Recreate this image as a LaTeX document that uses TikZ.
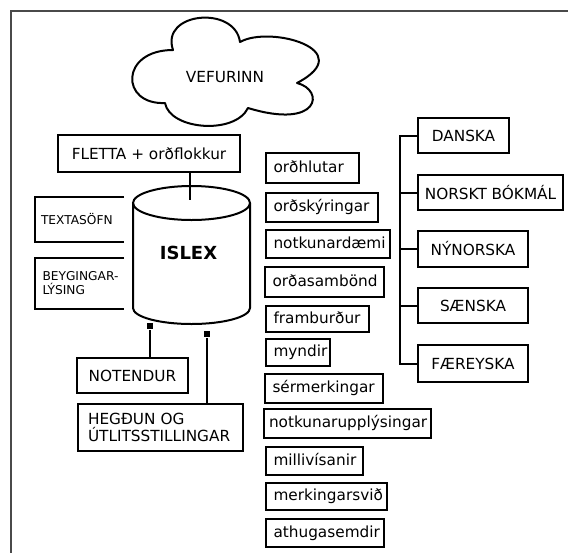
\documentclass[tikz,border=0pt]{standalone}
\usepackage{fontspec}
\setmainfont{DejaVu Sans}
\hyphenpenalty=10000
\exhyphenpenalty=10000
\newcommand{\mainfs}{\fontsize{15.3}{17}\selectfont}
\newcommand{\smallfs}{\fontsize{12.2}{14}\selectfont}
\definecolor{framegray}{HTML}{4A4A4A}
\tikzset{
  box/.style={draw, line width=2pt, inner sep=0pt, font=\mainfs},
  rb/.style={box, anchor=west, align=left, inner xsep=7.5pt, text height=11.5pt, text depth=3.5pt},
  lang/.style={box, align=center},
  bracketnode/.style={inner ysep=0pt, inner xsep=5pt, align=left, font=\smallfs},
  marker/.style={fill=black, inner sep=0pt, minimum width=6pt, minimum height=6pt},
  conn/.style={line width=2pt},
}
\begin{document}
\begin{tikzpicture}[x=1pt,y=1pt,line width=2pt]
\useasboundingbox (0,0) rectangle (568,-552);
% outer frame (only top and left visible)
\draw[line width=2pt, framegray] (11,-560) -- (11,-11) -- (575,-11);

% cloud
\draw[line width=2pt, line join=round]
  (173,-50) .. controls (160,-12) and (235,-5) .. (240,-42)
  .. controls (270,-25) and (360,-50) .. (297,-83)
  .. controls (325,-90) and (320,-130) .. (248,-108)
  .. controls (235,-135) and (170,-130) .. (165,-103)
  .. controls (120,-105) and (120,-50) .. (173,-50) -- cycle;
\node[font=\mainfs] (web) at (225,-76.7) {VEFURINN};

% FLETTA box
\node[box, minimum width=182pt, minimum height=37pt] (flet) at (149,-153.5) {FLETTA + orðflokkur};

% cylinder
\draw[fill=white] (133,-203) -- (133,-308)
  arc[start angle=180, end angle=360, x radius=58.5pt, y radius=16pt] -- (250,-203);
\draw (191.5,-203) ellipse[x radius=58.5pt, y radius=17pt];
\node[font=\bfseries\fontsize{18}{20}\selectfont] (islex) at (188.5,-253) {ISLEX};
\coordinate (cyltop) at (190,-200);
\draw[conn] (cyltop |- flet.south) -- (cyltop);

% left bracket boxes
\node[bracketnode, text width=77pt, minimum height=43pt] (tex) at (79.5,-219.5) {TEXTASÖFN};
\draw (tex.north east) -- (tex.north west) -- (tex.south west) -- (tex.south east);
\node[bracketnode, inner xsep=6.5pt, text width=74pt, minimum height=49pt] (bey) at (79.5,-283.5) {BEYGINGAR-\\LÝSING};
\draw (bey.north east) -- (bey.north west) -- (bey.south west) -- (bey.south east);

% users and settings
\node[box, minimum width=111pt, minimum height=35pt] (note) at (132.5,-375.5) {NOTENDUR};
\node[box, minimum height=47pt, text width=145pt, inner xsep=10pt, align=left] (heg) at (160.5,-427.5) {HEGÐUN OG\\ÚTLITSSTILLINGAR};
\node[marker] (m1) at (150,-326) {};
\node[marker] (m2) at (207,-334) {};
\draw[conn] (m1) -- (m1 |- note.north);
\draw[conn] (m2) -- (m2 |- heg.north);

% right column of fields
\node[rb, text width=78pt, minimum height=30pt] (r1) at (265,-168) {orðhlutar};
\node[rb, text width=97pt, minimum height=29pt] (r2) at (265,-207.5) {orðskýringar};
\node[rb, text width=109pt, minimum height=28pt] (r3) at (265,-244) {notkunardæmi};
\node[rb, text width=104pt, minimum height=30pt] (r4) at (264,-282) {orðasambönd};
\node[rb, text width=88pt, minimum height=26pt] (r5) at (265,-319) {framburður};
\node[rb, text width=49pt, minimum height=27pt] (r6) at (265,-352.5) {myndir};
\node[rb, text width=103pt, minimum height=29pt] (r7) at (264,-388.5) {sérmerkingar};
\node[rb, inner xsep=5pt, text width=157pt, minimum height=29pt] (r8) at (263,-423.5) {notkunarupplýsingar};
\node[rb, text width=82pt, minimum height=28pt] (r9) at (265,-461) {millivísanir};
\node[rb, text width=106pt, minimum height=27pt] (r10) at (265,-496.5) {merkingarsvið};
\node[rb, text width=103pt, minimum height=28pt] (r11) at (265,-533) {athugasemdir};

% languages
\node[lang, minimum width=91pt, minimum height=35pt] (dan) at (463.5,-135.5) {DANSKA};
\node[lang, minimum width=145pt, minimum height=35pt] (nor) at (490.5,-192.5) {NORSKT BÓKMÁL};
\node[lang, minimum width=110pt, minimum height=36pt] (nyn) at (473,-249) {NÝNORSKA};
\node[lang, minimum width=110pt, minimum height=35pt] (sae) at (473,-305.5) {SÆNSKA};
\node[lang, minimum width=110pt, minimum height=37pt] (far) at (473,-363.5) {FÆREYSKA};
\coordinate (trunk) at (400,-135.5);
\draw[conn] (dan.west) -- (trunk) |- (far.west);
\draw[conn] (nor.west) -- (nor.west -| trunk);
\draw[conn] (nyn.west) -- (nyn.west -| trunk);
\draw[conn] (sae.west) -- (sae.west -| trunk);
\end{tikzpicture}
\end{document}
